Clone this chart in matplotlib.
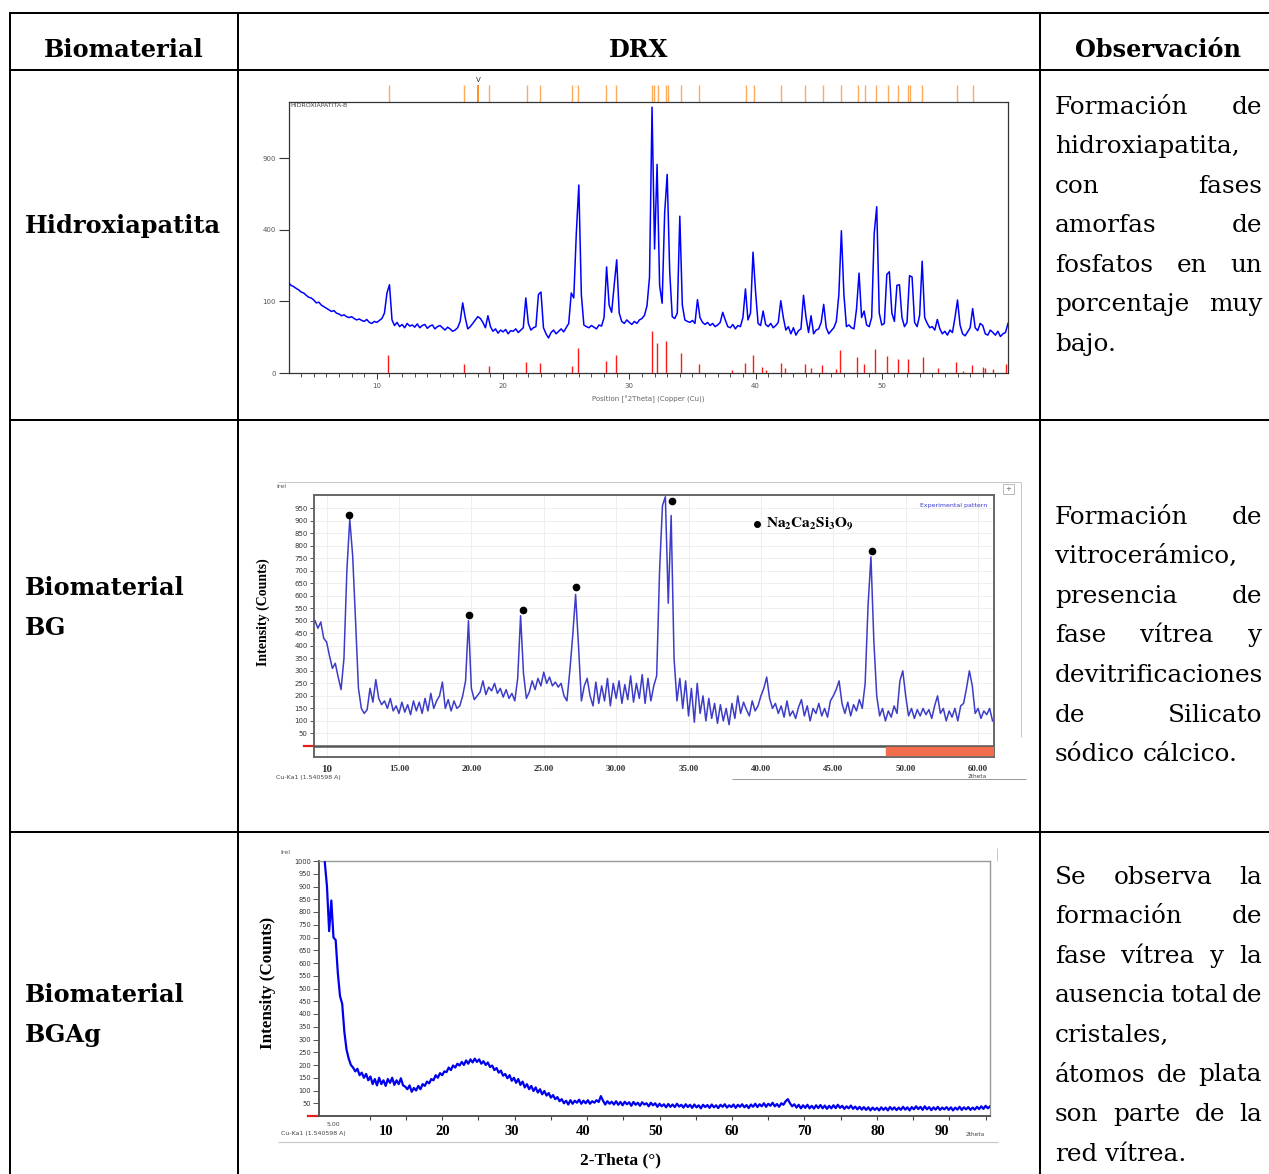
import numpy as np
import matplotlib
matplotlib.use("Agg")
import matplotlib.pyplot as plt
from matplotlib.lines import Line2D
from matplotlib.patches import Rectangle

plt.rcParams['mathtext.fontset'] = 'stix'

W, H = 1269, 1174

# ---------------- data ----------------
# Hidroxiapatita pattern, counts every 0.2 deg from 3.0 (sqrt intensity axis)
HAP_START, HAP_STEP = 3.0, 0.2
HAP_COUNTS = [
    160, 150, 146, 140, 135,   128, 125, 118, 112, 110,   104, 96, 98, 90, 86,
    82, 78, 74, 76, 70,        68, 64, 66, 62, 60,        62, 58, 55, 57, 54,
    52, 56, 50, 48, 52,        50, 54, 58, 70, 125,       152, 55, 44, 50, 42,
    46, 40, 48, 43, 45,        41, 47, 40, 44, 46,        39, 43, 45, 38, 42,
    44, 40, 36, 41, 38,        34, 36, 40, 52, 96,        60, 38, 42, 48, 55,
    62, 58, 50, 40, 64,        42, 34, 38, 31, 36,        33, 37, 30, 35, 34,
    38, 32, 36, 40, 110,       48, 36, 40, 42, 120,       128, 40, 30, 24, 32,
    36, 30, 34, 38, 33,        40, 48, 125, 110, 380,     690, 120, 45, 42, 40,
    44, 41, 38, 45, 43,        60, 220, 90, 72, 150,      250, 70, 52, 48, 55,
    50, 46, 52, 48, 55,        58, 65, 88, 180, 1380,     300, 850, 150, 95, 500,
    770, 200, 62, 58, 70,      480, 90, 55, 52, 50,       54, 48, 105, 60, 50,
    46, 50, 44, 48, 42,        45, 50, 72, 55, 42,        40, 46, 38, 44, 42,
    60, 138, 55, 70, 285,      130, 48, 44, 75, 46,       42, 48, 40, 44, 50,
    102, 60, 36, 42, 30,       40, 28, 35, 38, 118,       60, 32, 64, 30, 36,
    38, 50, 92, 40, 30,        35, 40, 52, 120, 395,      120, 42, 45, 40, 38,
    80, 195, 60, 75, 45,       42, 60, 380, 540, 70,      45, 48, 190, 200, 70,
    52, 150, 152, 60, 42,      50, 185, 180, 50, 42,      65, 244, 60, 48, 40,
    42, 36, 56, 38, 30,        34, 28, 36, 32, 60,        104, 45, 30, 27, 33,
    40, 81, 40, 35, 48,        44, 30, 28, 36, 32,        28, 34, 26, 30, 32,
    48,
]
# reference sticks (relative intensity, %)
HAP_REF_POS = [10.9, 16.9, 18.9, 21.85, 22.9, 25.45, 25.95, 28.15, 28.95, 31.77,
               32.2, 32.9, 34.1, 35.5, 38.15, 39.2, 39.8, 40.5, 40.85, 42.0,
               42.35, 43.9, 44.4, 45.3, 46.4, 46.7, 48.06, 48.63, 49.48, 50.44,
               51.3, 52.1, 53.23, 54.45, 55.85, 56.4, 57.14, 58.0, 58.2, 58.8, 59.88]
HAP_REF_INT = [42, 21, 17, 26, 24, 17, 60, 29, 42, 100,
               72, 77, 48, 21, 6, 24, 44, 14, 6, 24,
               12, 21, 12, 19, 10, 55, 37, 21, 57, 40,
               34, 34, 37, 12, 26, 4, 19, 14, 12, 10, 21]
# phase marker positions above the frame
HAP_MARK_POS = [10.97, 16.90, 18.91, 21.90, 22.90, 25.48, 25.93, 28.15, 28.95,
                31.77, 31.94, 32.26, 32.90, 33.06, 34.11, 35.56, 39.23, 39.84,
                41.98, 43.91, 45.36, 46.77, 48.15, 48.71, 49.56, 50.48, 51.29,
                52.10, 52.26, 53.15, 55.97, 57.22]
HAP_SEL_POS = 18.02

# Biomaterial BG pattern, counts every 0.2 deg from 9.2
BG_START, BG_STEP = 9.2, 0.2
BG_COUNTS = [
    500, 470, 495, 430,
    415, 360, 310, 330, 275, 225, 350, 700, 905, 760,
    500, 230, 150, 130, 145, 230, 175, 265, 190, 165,
    180, 150, 190, 140, 160, 130, 175, 135, 165, 125,
    180, 140, 175, 130, 190, 140, 210, 150, 180, 200,
    255, 150, 185, 140, 180, 150, 160, 200, 260, 500,
    230, 185, 200, 215, 260, 205, 235, 220, 250, 210,
    230, 195, 225, 190, 210, 180, 270, 520, 290, 190,
    215, 260, 225, 270, 240, 295, 250, 275, 240, 255,
    235, 250, 200, 180, 300, 440, 605, 400, 180, 240,
    270, 200, 160, 255, 170, 240, 180, 270, 160, 250,
    190, 260, 170, 245, 185, 280, 175, 250, 190, 285,
    170, 270, 180, 240, 280, 700, 960, 995, 570, 920,
    350, 180, 270, 150, 260, 120, 230, 95, 250, 130,
    200, 100, 190, 110, 170, 90, 165, 100, 150, 85,
    170, 110, 200, 130, 175, 145, 120, 180, 140, 160,
    200, 230, 275, 190, 150, 170, 130, 160, 115, 180,
    120, 140, 110, 155, 185, 120, 160, 100, 150, 130,
    170, 120, 150, 115, 180, 200, 225, 260, 170, 130,
    175, 120, 165, 140, 185, 150, 250, 560, 755, 420,
    200, 120, 150, 100, 140, 115, 160, 130, 260, 300,
    200, 120, 150, 110, 145, 120, 150, 125, 145, 110,
    160, 200, 130, 150, 100, 140, 115, 150, 100, 160,
    170, 230, 300, 240, 130, 150, 110, 140, 125, 150,
    100,
]
BG_PEAK_POS = [11.52, 19.84, 23.55, 27.24, 33.84, 47.66]
BG_PEAK_Y = [922, 521, 544, 633, 977, 779]
BG_TICKS = [10, 15, 20, 25, 30, 35, 40, 45, 50, 55]
BG_TICK_LABELS = ["10", "15.00", "20.00", "25.00", "30.00", "35.00",
                  "40.00", "45.00", "50.00", "60.00"]
BG_BAR_FROM = 48.65

# Biomaterial BGAg pattern, counts every 0.3 deg from 3.8
BGAG_START, BGAG_STEP = 3.8, 0.3
BGAG_COUNTS = [
    995, 900, 725, 845, 700, 690, 560, 470, 440, 330,
    260, 225, 200, 190, 175, 185, 160, 170, 150, 165,
    140, 155, 125, 145, 120, 150, 125, 140, 118, 145,
    130, 150, 122, 140, 125, 148, 120, 115, 105, 120,
    95, 110, 100, 118, 105, 125, 118, 135, 128, 145,
    140, 160, 150, 168, 160, 175, 172, 190, 180, 198,
    190, 205, 198, 212, 200, 218, 205, 222, 210, 225,
    212, 222, 205, 215, 200, 210, 192, 198, 180, 188,
    170, 178, 158, 165, 148, 160, 138, 150, 130, 145,
    122, 135, 112, 125, 105, 118, 98, 112, 92, 105,
    85, 98, 80, 90, 72, 82, 66, 74, 58, 66,
    50, 60, 45, 62, 48, 60, 52, 64, 48, 60,
    50, 62, 48, 58, 52, 62, 55, 78, 60, 45,
    58, 48, 56, 45, 58, 44, 55, 42, 56, 46,
    54, 40, 55, 44, 52, 40, 54, 45, 50, 38,
    52, 42, 50, 36, 48, 38, 46, 34, 47, 36,
    45, 35, 48, 37, 44, 33, 46, 35, 44, 32,
    45, 34, 42, 30, 44, 35, 43, 32, 45, 34,
    42, 31, 44, 36, 46, 33, 42, 35, 45, 32,
    44, 36, 46, 34, 43, 31, 45, 36, 48, 35,
    46, 38, 50, 36, 48, 40, 52, 38, 47, 36,
    50, 44, 58, 66, 50, 38, 46, 33, 44, 30,
    42, 32, 44, 30, 40, 29, 42, 31, 43, 30,
    41, 28, 40, 30, 42, 31, 44, 32, 40, 28,
    38, 30, 41, 28, 37, 26, 36, 25, 35, 24,
    34, 22, 33, 24, 32, 22, 34, 24, 33, 22,
    35, 25, 34, 23, 33, 24, 36, 25, 34, 22,
    35, 26, 38, 27, 36, 24, 38, 26, 35, 23,
    34, 25, 36, 24, 33, 26, 35, 24, 34, 22,
    33, 25, 36, 24, 34, 26, 35, 24, 33, 25,
    36, 27, 38, 28, 40, 30, 38,
]
BGAG_TICK_LABELS = ["10", "20", "30", "40", "50", "60", "70", "80", "90"]

HEADERS = ["Biomaterial", "DRX", "Observación"]
ROW_NAMES = [["Hidroxiapatita"], ["Biomaterial", "BG"], ["Biomaterial", "BGAg"]]
OBSERVATIONS = [
    ["Formación de", "hidroxiapatita,", "con fases", "amorfas de",
     "fosfatos en un", "porcentaje muy", "bajo."],
    ["Formación de", "vitrocerámico,", "presencia de", "fase vítrea y",
     "devitrificaciones", "de Silicato", "sódico cálcico."],
    ["Se observa la", "formación de", "fase vítrea y la", "ausencia total de",
     "cristales,", "átomos de plata", "son parte de la", "red vítrea."],
]

# ---------------- figure / helpers ----------------
fig = plt.figure(figsize=(W / 100, H / 100), dpi=100)
renderer = fig.canvas.get_renderer()


def fx(x):
    return x / W


def fy(y):
    return 1 - y / H


def rect(l, t, r, b):
    return [l / W, 1 - b / H, (r - l) / W, (b - t) / H]


def line(xs, ys, lw=2.0, color="black"):
    fig.add_artist(Line2D([fx(v) for v in xs], [fy(v) for v in ys],
                          lw=lw * 0.72, color=color, solid_capstyle="butt"))


def ftext(x, y, s, **kw):
    return fig.text(fx(x), fy(y), s, **kw)


def fit_size(s, target, **kw):
    t = fig.text(0, 0, s, fontsize=20, **kw)
    w = t.get_window_extent(renderer).width
    t.remove()
    return 20 * target / w


SERIF = "DejaVu Serif"
BOLD_SIZE = fit_size("Hidroxiapatita", 196, family=SERIF, weight="bold")
BODY_SIZE = fit_size("devitrificaciones", 207, family=SERIF)

# ---------------- table ----------------
for y in (13, 70, 420, 832):
    line([10, W], [y, y])
for x in (10, 238, 1040):
    line([x, x], [12, H])

for s, xc in zip(HEADERS, [124, 639, 1158]):
    ftext(xc, 57, s, family=SERIF, weight="bold", fontsize=BOLD_SIZE,
          ha="center", va="baseline")

for names, y0 in zip(ROW_NAMES, [233, 595, 1002]):
    for i, s in enumerate(names):
        ftext(25, y0 + i * 40, s, family=SERIF, weight="bold",
              fontsize=BOLD_SIZE, va="baseline")


def justified(lines, y0, x0=1055, x1=1262, dy=39.6):
    space = BODY_SIZE * 100 / 72 * 0.32
    for i, ln in enumerate(lines):
        words = ln.split()
        y = y0 + i * dy
        texts = [ftext(0, y, w, family=SERIF, fontsize=BODY_SIZE,
                       va="baseline") for w in words]
        widths = [t.get_window_extent(renderer).width for t in texts]
        last = i == len(lines) - 1
        if len(words) > 1 and not last:
            gap = (x1 - x0 - sum(widths)) / (len(words) - 1)
        else:
            gap = space
        x = x0
        for t, w in zip(texts, widths):
            t.set_x(fx(x))
            x += w + gap


for obs, y0 in zip(OBSERVATIONS, [113.5, 523.5, 883.5]):
    justified(obs, y0)

# ---------------- Hidroxiapatita (HighScore style) ----------------
ax1 = fig.add_axes(rect(288.5, 102, 1008, 373))
hx = HAP_START + HAP_STEP * np.arange(len(HAP_COUNTS))
ax1.plot(hx, HAP_COUNTS, color="#0000ff", lw=1.1, zorder=3)
ax1.set_yscale("function", functions=(lambda v: np.sqrt(np.clip(v, 0, None)),
                                       lambda v: np.square(v)))
ax1.set_xlim(3.0, 60.0)
ax1.set_ylim(0, 1434)
ax1.set_yticks([0, 100, 400, 900])
ax1.set_yticklabels(["0", "100", "400", "900"])
ax1.set_xticks([10, 20, 30, 40, 50])
ax1.set_xticks(np.arange(4, 60), minor=True)
ax1.yaxis.set_minor_locator(matplotlib.ticker.NullLocator())
ax1.tick_params(axis="y", direction="out", length=7, width=0.8, color="#333",
                labelsize=5, labelcolor="#555", pad=2)
ax1.tick_params(axis="x", which="major", direction="out", length=4, width=0.7,
                color="#333", labelsize=5, labelcolor="#555", pad=3)
ax1.tick_params(axis="x", which="minor", direction="out", length=3, width=0.6,
                color="#333")
for sp in ax1.spines.values():
    sp.set_color("#333")
    sp.set_linewidth(0.9)
ax1.set_xlabel("Position [°2Theta] (Copper (Cu))", fontsize=5, color="#666",
               labelpad=5)
ax1.text(0.003, 0.995, "HIDROXIAPATITA-B", transform=ax1.transAxes,
         fontsize=4.5, color="#444", va="top", ha="left")

ref = ax1.twinx()
ref.set_ylim(0, 645)
ref.vlines(HAP_REF_POS, 0, HAP_REF_INT, colors="#ff1a1a", lw=1.0)
ref.set_axis_off()

tr = ax1.get_xaxis_transform()
ax1.vlines(HAP_MARK_POS, 1.0, 1.0 + 17 / 271, transform=tr, colors="#ffab5c",
           lw=1.0, clip_on=False)
ax1.vlines([HAP_SEL_POS], 1.0, 1.0 + 17 / 271, transform=tr, colors="#ff7a00",
           lw=1.2, clip_on=False)
ax1.text(HAP_SEL_POS, 1.07, "V", transform=tr, fontsize=5, ha="center",
         va="bottom", color="#222")

# ---------------- Biomaterial BG ----------------
line([278, 1021], [482, 482], lw=1, color="#c8c8c8")
line([1021, 1021], [482, 737], lw=1, color="#c8c8c8")
line([732, 1026], [779, 779], lw=1, color="#9a9a9a")
fig.add_artist(Rectangle((fx(1003), fy(494)), 11 / W, 10 / H, fill=False,
                         ec="#b0b0b0", lw=0.6))
ftext(1008.5, 489, "+", fontsize=5, color="#666", ha="center", va="center")
ftext(276, 487, "Irel", fontsize=4.5, color="#555", va="center")

ax2 = fig.add_axes(rect(314, 495, 994, 757))
bx = BG_START + BG_STEP * np.arange(len(BG_COUNTS))
ax2.plot(bx, BG_COUNTS, color="#3c3cc8", lw=1.1, zorder=3)
ax2.plot(BG_PEAK_POS, BG_PEAK_Y, "o", color="black", ms=4.5, zorder=4)
ax2.set_xlim(9.13, 56.1)
ax2.set_ylim(-44, 1002)
ax2.axhline(0, color="#555", lw=1.8, zorder=4)
ax2.add_patch(Rectangle((BG_BAR_FROM, -38), 56.1 - BG_BAR_FROM, 32,
                        color="#f26d4b", zorder=4))
ax2.set_yticks(np.arange(50, 951, 50))
ax2.set_xticks(BG_TICKS)
ax2.set_xticklabels(BG_TICK_LABELS, family="Liberation Serif", weight="bold",
                    fontsize=6.5, color="#333")
ax2.get_xticklabels()[0].set_fontsize(8)
ax2.tick_params(axis="x", length=0, pad=6)
ax2.tick_params(axis="y", direction="out", length=3, width=0.7, color="#555",
                labelsize=5, labelcolor="#333", pad=1.5)
ax2.grid(True, color="#eeeeee", lw=0.7, zorder=0)
for sp in ax2.spines.values():
    sp.set_color("#666")
    sp.set_linewidth(1.4)
ax2.plot([-0.015, 0.0], [44 / 1046, 44 / 1046], transform=ax2.transAxes,
         color="#e02020", lw=1.6, clip_on=False)
ax2.text(0.99, 0.97, "Experimental pattern", transform=ax2.transAxes,
         fontsize=4.5, color="#3a3ad0", ha="right", va="top")
ax2.plot([0.651], [0.889], "o", color="black", ms=4, transform=ax2.transAxes)
ax2.text(0.664, 0.889, r"$\mathbf{Na_{2}Ca_{2}Si_{3}O_{9}}$",
         transform=ax2.transAxes, fontsize=11, va="center", ha="left")
ftext(263, 612, "Intensity (Counts)", family="Liberation Serif", weight="bold",
      fontsize=10, rotation=90, ha="center", va="center")
ftext(276, 777, "Cu-Ka1 (1.540598 A)", fontsize=4.5, color="#444", va="center")
ftext(968, 777, "2theta", fontsize=4.2, color="#444", va="center")

# ---------------- Biomaterial BGAg ----------------
ax3 = fig.add_axes(rect(319, 861, 990, 1116))
gx = BGAG_START + BGAG_STEP * np.arange(len(BGAG_COUNTS))
ax3.plot(gx, BGAG_COUNTS, color="#0000ee", lw=1.6, zorder=3)
ax3.set_xlim(3.0, 95.6)
ax3.set_ylim(0, 1000)
ax3.set_yticks(np.arange(50, 1001, 50))
ax3.set_xticks(np.arange(10, 96, 5))
ax3.set_xticklabels([])
ax3.tick_params(axis="x", direction="out", length=3, width=0.8, color="#444")
ax3.tick_params(axis="y", direction="out", length=4, width=0.7, color="#555",
                labelsize=4.8, labelcolor="#333", pad=1.5)
for name, sp in ax3.spines.items():
    sp.set_color("#999" if name in ("top", "right") else "#555")
    sp.set_linewidth(1.0 if name in ("top", "right") else 1.4)
ax3.plot([-0.016, 0.0], [0, 0], transform=ax3.transAxes, color="#e02020",
         lw=1.6, clip_on=False)
xt3 = ax3.get_xaxis_transform()
label_pos = [12.2, 20.1, 29.6, 39.4, 49.5, 59.9, 70.0, 80.1, 89.0]
for p, s in zip(label_pos, BGAG_TICK_LABELS):
    ax3.text(p, -0.062, s, transform=xt3, family="Liberation Serif",
             weight="bold", fontsize=10.5, ha="center", va="center")
ax3.text(5.0, -0.033, "5.00", transform=xt3, fontsize=4.5, color="#444",
         ha="center", va="center")
ftext(281, 1134, "Cu-Ka1 (1.540598 A)", fontsize=4.5, color="#444",
      va="center")
ftext(966, 1134, "2theta", fontsize=4.2, color="#444", va="center")
ftext(280, 853, "Irel", fontsize=4.5, color="#555", va="center")
line([278, 998], [1142, 1142], lw=1.2, color="#c8c8c8")
line([997, 997], [848, 861], lw=1, color="#c8c8c8")
ftext(268, 983, "Intensity (Counts)", family="Liberation Serif", weight="bold",
      fontsize=12.3, rotation=90, ha="center", va="center")
ftext(620, 1160, "2-Theta (°)", family="Liberation Serif", weight="bold",
      fontsize=12.5, ha="center", va="center")

fig.savefig("out.png", dpi=100)
